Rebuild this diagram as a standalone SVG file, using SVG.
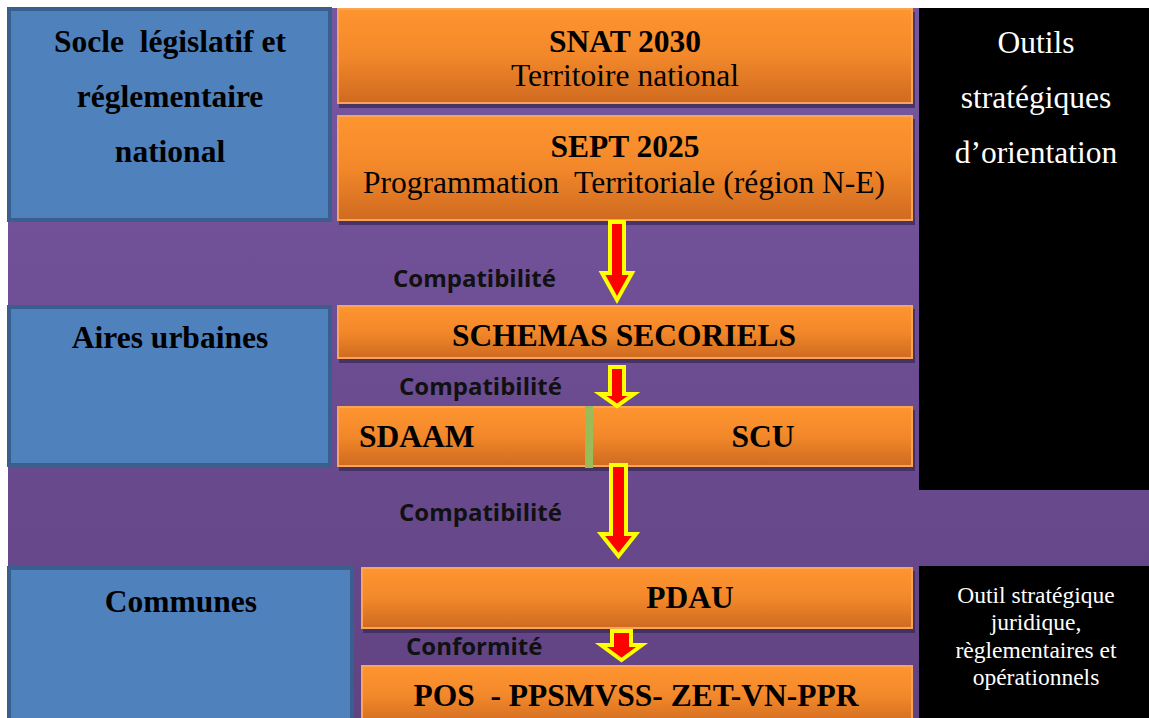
<svg xmlns="http://www.w3.org/2000/svg" width="1149" height="718" viewBox="0 0 1149 718">
<defs>
<linearGradient id="bg" x1="0" y1="0" x2="0" y2="1">
<stop offset="0" stop-color="#7857a1"/>
<stop offset="1" stop-color="#614383"/>
</linearGradient>
<linearGradient id="og" x1="0" y1="0" x2="0" y2="1">
<stop offset="0" stop-color="#ff952f"/>
<stop offset="0.5" stop-color="#f2882a"/>
<stop offset="1" stop-color="#cf6a20"/>
</linearGradient>
<style>
.blue{fill:#4f81bd;stroke:#3a5f8e;stroke-width:4}
.org{fill:url(#og);stroke:#f9a456;stroke-width:2}
.shd{fill:#3b2a55;opacity:0.75}
.blk{fill:#000}
.arr{fill:#ff0000;stroke:#ffff00;stroke-width:4;stroke-linejoin:miter}
.tb{font-family:"Liberation Serif",serif;font-weight:bold;font-size:31.5px;fill:#000;white-space:pre}
.tr{font-family:"Liberation Serif",serif;font-size:31.5px;fill:#000;white-space:pre}
.tw{font-family:"Liberation Serif",serif;font-size:31.5px;fill:#fff}
.ts{font-family:"Liberation Serif",serif;font-size:23.5px;fill:#fff}
.lab{font-family:"Open Sans",sans-serif;font-weight:bold;font-size:24px;fill:#111}
.c{text-anchor:middle}
</style>
</defs>
<rect x="0" y="0" width="1149" height="718" fill="#fff"/>
<rect x="8" y="8" width="1141" height="710" fill="url(#bg)"/>

<g id="socle">
<rect class="blue" x="9" y="9" width="321" height="211"/>
<text class="tb c" x="170" y="52">Socle  législatif et</text>
<text class="tb c" x="170" y="107">réglementaire</text>
<text class="tb c" x="170" y="162">national</text>
</g>
<g id="aires">
<rect class="blue" x="9" y="307" width="321" height="158"/>
<text class="tb c" x="170" y="348">Aires urbaines</text>
</g>
<g id="communes">
<rect class="blue" x="9" y="568" width="343" height="160"/>
<text class="tb c" x="181" y="612">Communes</text>
</g>

<g id="outils">
<rect class="blk" x="919" y="8" width="230" height="482"/>
<text class="tw c" x="1036" y="53">Outils</text>
<text class="tw c" x="1036" y="108">stratégiques</text>
<text class="tw c" x="1036" y="163">d’orientation</text>
</g>
<g id="outil2">
<rect class="blk" x="919" y="566" width="230" height="152"/>
<text class="ts c" x="1036" y="603">Outil stratégique</text>
<text class="ts c" x="1036" y="630">juridique,</text>
<text class="ts c" x="1036" y="658">règlementaires et</text>
<text class="ts c" x="1036" y="685">opérationnels</text>
</g>

<g id="snat">
<rect class="shd" x="339" y="12" width="576" height="96"/>
<rect class="org" x="338" y="9" width="574" height="94"/>
<text class="tb c" x="625" y="52">SNAT 2030</text>
<text class="tr c" x="625" y="86">Territoire national</text>
</g>
<g id="sept">
<rect class="shd" x="339" y="119" width="576" height="106"/>
<rect class="org" x="338" y="116" width="574" height="104"/>
<text class="tb c" x="625" y="157">SEPT 2025</text>
<text class="tr c" x="624" y="193">Programmation  Territoriale (région N-E)</text>
</g>
<g id="schemas">
<rect class="shd" x="339" y="309" width="576" height="54"/>
<rect class="org" x="338" y="306" width="574" height="52"/>
<text class="tb c" x="624" y="346">SCHEMAS SECORIELS</text>
</g>
<g id="sdaam-scu">
<rect class="shd" x="339" y="410" width="576" height="61"/>
<rect class="org" x="338" y="407" width="574" height="59"/>
<rect x="585" y="406" width="8" height="62" fill="#9bbb59"/>
<text class="tb" x="359" y="447">SDAAM</text>
<text class="tb c" x="763" y="447">SCU</text>
</g>
<g id="pdau">
<rect class="shd" x="363" y="571" width="552" height="62"/>
<rect class="org" x="362" y="568" width="550" height="60"/>
<text class="tb c" x="690" y="608">PDAU</text>
</g>
<g id="pos">
<rect class="org" x="362" y="666" width="550" height="60"/>
<text class="tb c" x="636" y="706">POS  - PPSMVSS- ZET-VN-PPR</text>
</g>

<g id="connectors">
<polygon class="arr" points="610,222 624,222 624,273 632,273 617,300 602,273 610,273"/>
<polygon class="arr" points="610,367 624,367 624,394 634,394 617,406 600,394 610,394"/>
<polygon class="arr" points="611,465 626,465 626,534 636,534 618.5,556 601,534 611,534"/>
<polygon class="arr" points="612,631 631,631 631,645 642,645 621.5,660 601,645 612,645"/>
<text class="lab" x="393" y="287">Compatibilité</text>
<text class="lab" x="399" y="395">Compatibilité</text>
<text class="lab" x="399" y="521">Compatibilité</text>
<text class="lab" x="406" y="655">Conformité</text>
</g>
</svg>
